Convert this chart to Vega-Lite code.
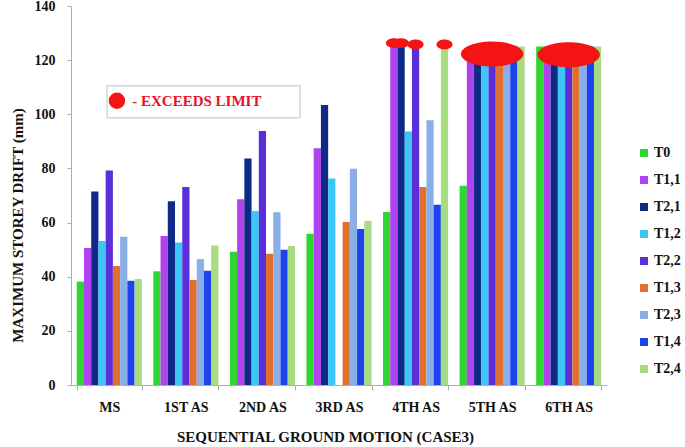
{
  "$schema": "https://vega.github.io/schema/vega-lite/v6.json",
  "width": 536,
  "height": 379,
  "autosize": {"type": "none"},
  "padding": {"left": 71, "top": 6, "right": 78, "bottom": 62},
  "background": "white",
  "config": {
    "view": {"stroke": null},
    "font": "Liberation Serif",
    "style": {
      "guide-label": {"font": "Liberation Serif", "fontWeight": "bold"},
      "guide-title": {"font": "Liberation Serif", "fontWeight": "bold"}
    },
    "axis": {
      "domainColor": "#a9b0b0",
      "tickColor": "#a9b0b0",
      "labelFont": "Liberation Serif",
      "labelFontWeight": "bold",
      "labelFontSize": 14,
      "labelColor": "#111111",
      "titleFont": "Liberation Serif",
      "titleFontWeight": "bold",
      "titleFontSize": 14,
      "titleColor": "#111111",
      "grid": false
    },
    "legend": {
      "labelFont": "Liberation Serif",
      "labelFontWeight": "bold",
      "labelFontSize": 14,
      "labelColor": "#111111"
    }
  },
  "datasets": {
    "bars": [
      {"g": "MS", "s": "T0", "v": 38.2}, {"g": "MS", "s": "T1,1", "v": 50.6}, {"g": "MS", "s": "T2,1", "v": 71.5},
      {"g": "MS", "s": "T1,2", "v": 53.2}, {"g": "MS", "s": "T2,2", "v": 79.2}, {"g": "MS", "s": "T1,3", "v": 44.0},
      {"g": "MS", "s": "T2,3", "v": 54.8}, {"g": "MS", "s": "T1,4", "v": 38.5}, {"g": "MS", "s": "T2,4", "v": 39.2},
      {"g": "1ST AS", "s": "T0", "v": 42.0}, {"g": "1ST AS", "s": "T1,1", "v": 55.0}, {"g": "1ST AS", "s": "T2,1", "v": 67.9},
      {"g": "1ST AS", "s": "T1,2", "v": 52.6}, {"g": "1ST AS", "s": "T2,2", "v": 73.1}, {"g": "1ST AS", "s": "T1,3", "v": 38.8},
      {"g": "1ST AS", "s": "T2,3", "v": 46.5}, {"g": "1ST AS", "s": "T1,4", "v": 42.2}, {"g": "1ST AS", "s": "T2,4", "v": 51.5},
      {"g": "2ND AS", "s": "T0", "v": 49.2}, {"g": "2ND AS", "s": "T1,1", "v": 68.6}, {"g": "2ND AS", "s": "T2,1", "v": 83.7},
      {"g": "2ND AS", "s": "T1,2", "v": 64.3}, {"g": "2ND AS", "s": "T2,2", "v": 93.8}, {"g": "2ND AS", "s": "T1,3", "v": 48.5},
      {"g": "2ND AS", "s": "T2,3", "v": 63.8}, {"g": "2ND AS", "s": "T1,4", "v": 50.0}, {"g": "2ND AS", "s": "T2,4", "v": 51.3},
      {"g": "3RD AS", "s": "T0", "v": 55.9}, {"g": "3RD AS", "s": "T1,1", "v": 87.5}, {"g": "3RD AS", "s": "T2,1", "v": 103.4},
      {"g": "3RD AS", "s": "T1,2", "v": 76.3}, {"g": "3RD AS", "s": "T1,3", "v": 60.2},
      {"g": "3RD AS", "s": "T2,3", "v": 79.9}, {"g": "3RD AS", "s": "T1,4", "v": 57.6}, {"g": "3RD AS", "s": "T2,4", "v": 60.6},
      {"g": "4TH AS", "s": "T0", "v": 63.9}, {"g": "4TH AS", "s": "T1,1", "v": 125}, {"g": "4TH AS", "s": "T2,1", "v": 125},
      {"g": "4TH AS", "s": "T1,2", "v": 93.6}, {"g": "4TH AS", "s": "T2,2", "v": 125}, {"g": "4TH AS", "s": "T1,3", "v": 73.1},
      {"g": "4TH AS", "s": "T2,3", "v": 97.8}, {"g": "4TH AS", "s": "T1,4", "v": 66.6}, {"g": "4TH AS", "s": "T2,4", "v": 125},
      {"g": "5TH AS", "s": "T0", "v": 73.6}, {"g": "5TH AS", "s": "T1,1", "v": 125}, {"g": "5TH AS", "s": "T2,1", "v": 125},
      {"g": "5TH AS", "s": "T1,2", "v": 125}, {"g": "5TH AS", "s": "T2,2", "v": 125}, {"g": "5TH AS", "s": "T1,3", "v": 125},
      {"g": "5TH AS", "s": "T2,3", "v": 125}, {"g": "5TH AS", "s": "T1,4", "v": 125}, {"g": "5TH AS", "s": "T2,4", "v": 125},
      {"g": "6TH AS", "s": "T0", "v": 125}, {"g": "6TH AS", "s": "T1,1", "v": 125}, {"g": "6TH AS", "s": "T2,1", "v": 125},
      {"g": "6TH AS", "s": "T1,2", "v": 125}, {"g": "6TH AS", "s": "T2,2", "v": 125}, {"g": "6TH AS", "s": "T1,3", "v": 125},
      {"g": "6TH AS", "s": "T2,3", "v": 125}, {"g": "6TH AS", "s": "T1,4", "v": 125}, {"g": "6TH AS", "s": "T2,4", "v": 125}
    ],
    "small": [
      {"g": "4TH AS", "s": "T1,1", "v": 126.3},
      {"g": "4TH AS", "s": "T2,1", "v": 126.3},
      {"g": "4TH AS", "s": "T2,2", "v": 125.8},
      {"g": "4TH AS", "s": "T2,4", "v": 125.8}
    ],
    "big": [
      {"g": "5TH AS", "v": 122.3},
      {"g": "6TH AS", "v": 122.0}
    ],
    "box": [{"x1": 0.47, "x2": 2.99, "y1": 98.7, "y2": 110.5}],
    "dot": [{"x": 0.6, "y": 105.0}],
    "note": [{"x": 0.8, "y": 104.8, "t": "- EXCEEDS LIMIT"}]
  },
  "layer": [
    {
      "layer": [
        {
          "data": {"name": "bars"},
          "mark": {"type": "bar"},
          "encoding": {
            "x": {
              "field": "g", "type": "nominal",
              "scale": {"domain": ["MS", "1ST AS", "2ND AS", "3RD AS", "4TH AS", "5TH AS", "6TH AS"], "paddingInner": 0.15, "paddingOuter": 0.075},
              "axis": {"title": "SEQUENTIAL GROUND MOTION (CASE3)", "labelAngle": 0, "tickBand": "extent", "tickSize": 5, "labelPadding": 10, "titlePadding": 15, "titleFontSize": 15, "titleX": 254, "labelFont": "Liberation Serif", "titleFont": "Liberation Serif"}
            },
            "xOffset": {
              "field": "s", "type": "nominal",
              "scale": {"domain": ["T0", "T1,1", "T2,1", "T1,2", "T2,2", "T1,3", "T2,3", "T1,4", "T2,4"], "paddingInner": 0, "paddingOuter": 0}
            },
            "y": {
              "field": "v", "type": "quantitative",
              "scale": {"domain": [0, 140], "nice": false},
              "axis": {"title": "MAXIMUM  STOREY DRIFT (mm)", "values": [0, 20, 40, 60, 80, 100, 120, 140], "tickSize": 4, "labelPadding": 12, "labelFontSize": 14, "titlePadding": 9, "titleFontSize": 15, "titleY": 219, "labelFont": "Liberation Serif", "titleFont": "Liberation Serif"}
            },
            "color": {
              "field": "s", "type": "nominal",
              "scale": {
                "domain": ["T0", "T1,1", "T2,1", "T1,2", "T2,2", "T1,3", "T2,3", "T1,4", "T2,4"],
                "range": ["#2fd62f", "#b042f0", "#0e2a86", "#3cc6f5", "#5a2ed8", "#e0702e", "#8aaee6", "#1d43ec", "#a6dc82"]
              },
              "legend": {"title": null, "orient": "none", "legendX": 566, "legendY": 140, "symbolType": "square", "symbolSize": 64, "rowPadding": 13, "labelOffset": 3, "labelFont": "Liberation Serif"}
            }
          }
        },
        {
          "data": {"name": "small"},
          "mark": {"type": "point", "filled": true, "opacity": 1, "color": "#f41414", "size": 256, "shape": "M-1,0A1,0.62 0 1,0 1,0A1,0.62 0 1,0 -1,0Z"},
          "encoding": {
            "x": {"field": "g", "type": "nominal"},
            "xOffset": {"field": "s", "type": "nominal"},
            "y": {"field": "v", "type": "quantitative"}
          }
        },
        {
          "data": {"name": "big"},
          "mark": {"type": "point", "filled": true, "opacity": 1, "color": "#f41414", "size": 3900, "shape": "M-1,0A1,0.4 0 1,0 1,0A1,0.4 0 1,0 -1,0Z"},
          "encoding": {
            "x": {"field": "g", "type": "nominal"},
            "y": {"field": "v", "type": "quantitative"}
          }
        }
      ]
    },
    {
      "layer": [
        {
          "data": {"name": "box"},
          "mark": {"type": "rect", "fill": "white", "stroke": "#cfd9d5", "strokeWidth": 1.5},
          "encoding": {
            "x": {"field": "x1", "type": "quantitative", "scale": {"domain": [0, 7], "nice": false}, "axis": null},
            "x2": {"field": "x2"},
            "y": {"field": "y1", "type": "quantitative"},
            "y2": {"field": "y2"}
          }
        },
        {
          "data": {"name": "dot"},
          "mark": {"type": "point", "shape": "circle", "filled": true, "opacity": 1, "color": "#f41414", "size": 270},
          "encoding": {
            "x": {"field": "x", "type": "quantitative"},
            "y": {"field": "y", "type": "quantitative"}
          }
        },
        {
          "data": {"name": "note"},
          "mark": {"type": "text", "align": "left", "baseline": "middle", "font": "Liberation Serif", "fontWeight": "bold", "fontSize": 15, "color": "#e8102a"},
          "encoding": {
            "x": {"field": "x", "type": "quantitative"},
            "y": {"field": "y", "type": "quantitative"},
            "text": {"field": "t"}
          }
        }
      ]
    }
  ],
  "resolve": {"scale": {"x": "independent"}}
}
